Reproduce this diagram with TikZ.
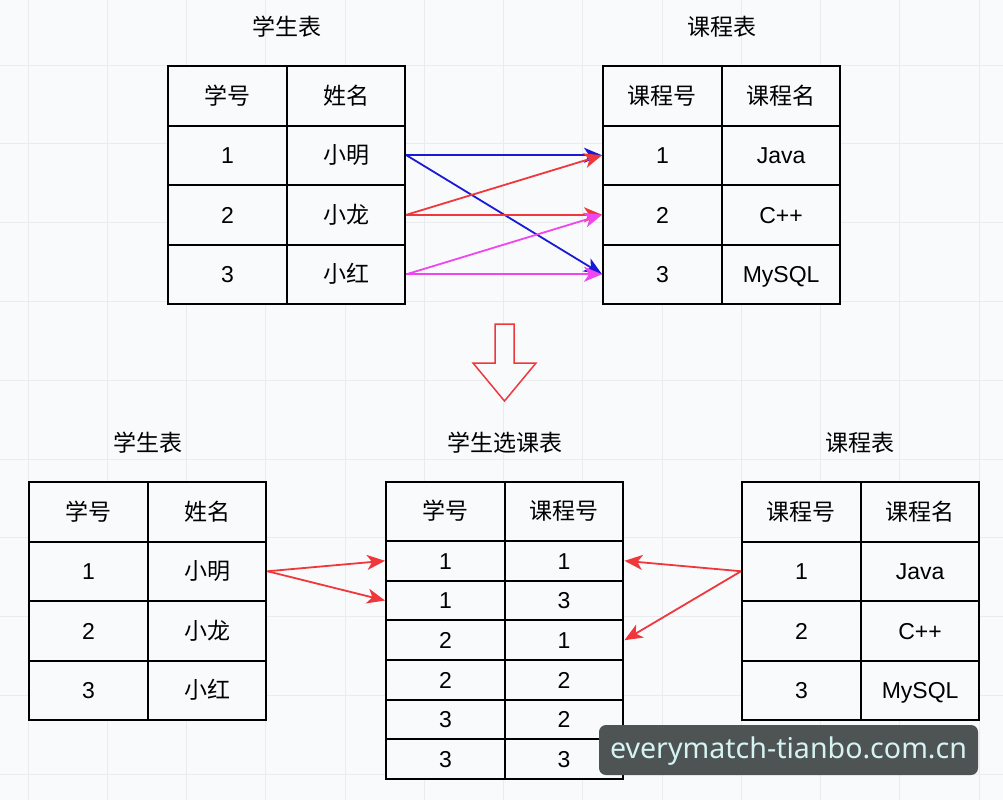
\documentclass[tikz,border=0pt]{standalone}
\usepackage{fontspec}
\setmainfont{Liberation Sans}
\newfontfamily\cjk{Noto Sans CJK SC}
\newfontfamily\wmfont{Noto Sans}
\usetikzlibrary{arrows.meta}
\definecolor{bgc}{RGB}{249,250,251}
\definecolor{gridc}{RGB}{234,235,237}
\definecolor{ablue}{RGB}{25,25,215}
\definecolor{ared}{RGB}{240,55,60}
\definecolor{amag}{RGB}{240,70,240}
\definecolor{wmbg}{RGB}{78,83,84}
\definecolor{wmtx}{RGB}{214,243,243}
\newcommand{\fsz}{\fontsize{23}{27}\selectfont}
\begin{document}
\begin{tikzpicture}[x=1pt,y=-1pt,
  gridline/.style={draw=gridc, line width=1pt},
  cell/.style={draw=black, line width=2pt, fill=bgc, minimum width=118.75pt, minimum height=59.5pt, inner sep=0pt, text height=16.5pt, text depth=0pt, font=\fsz},
  mcell/.style={cell, minimum height=39.67pt},
  mhead/.style={cell, minimum height=59pt},
  ttl/.style={font=\fsz\cjk, inner sep=0pt},
  arr/.style={line width=1.8pt, -{Stealth[length=18pt,width=15pt,inset=5pt]}},
  wmbox/.style={fill=wmbg, rounded corners=7pt, minimum width=379pt, minimum height=50pt, inner sep=0pt}
]
\useasboundingbox (0,0) rectangle (1003,800);
\fill[bgc] (0,0) rectangle (1003,800);
\foreach \i in {0,...,12} \draw[gridline] (28+79.25*\i,0) -- (28+79.25*\i,800);
\foreach \j in {0,...,9} \draw[gridline] (0,65+78.8*\j) -- (1003,65+78.8*\j);

% ---------- top: student table ----------
\node[ttl] (t1) at (287,27) {学生表};
\node[cell] (s0a) at (227.4,95.75) {\cjk 学号};
\node[cell] (s0b) at (346.1,95.75) {\cjk 姓名};
\node[cell] (s1a) at (227.4,155.25) {1};
\node[cell] (s1b) at (346.1,155.25) {\cjk 小明};
\node[cell] (s2a) at (227.4,214.75) {2};
\node[cell] (s2b) at (346.1,214.75) {\cjk 小龙};
\node[cell] (s3a) at (227.4,274.25) {3};
\node[cell] (s3b) at (346.1,274.25) {\cjk 小红};

% ---------- top: course table ----------
\node[ttl] (t2) at (722,27) {课程表};
\node[cell] (c0a) at (662.4,95.75) {\cjk 课程号};
\node[cell] (c0b) at (781.1,95.75) {\cjk 课程名};
\node[cell] (c1a) at (662.4,155.25) {1};
\node[cell] (c1b) at (781.1,155.25) {Java};
\node[cell] (c2a) at (662.4,214.75) {2};
\node[cell] (c2b) at (781.1,214.75) {C++};
\node[cell] (c3a) at (662.4,274.25) {3};
\node[cell] (c3b) at (781.1,274.25) {MySQL};

% ---------- top arrows ----------
\draw[arr, ablue] (s1b.east) -- (c1a.west);
\draw[arr, ablue] (s1b.east) -- (c3a.west);
\draw[arr, ared] (s2b.east) -- (c1a.west);
\draw[arr, ared] (s2b.east) -- (c2a.west);
\draw[arr, amag] (s3b.east) -- (c2a.west);
\draw[arr, amag] (s3b.east) -- (c3a.west);

% ---------- big down arrow ----------
\draw[ared, line width=1.5pt, fill=bgc, line join=miter]
  (495,324) -- (514,324) -- (514,363) -- (536,363) -- (504.5,401) -- (473,363) -- (495,363) -- cycle;

% ---------- bottom: student table ----------
\node[ttl] (t3) at (148,443) {学生表};
\node[cell] (u0a) at (88.4,511.75) {\cjk 学号};
\node[cell] (u0b) at (207.1,511.75) {\cjk 姓名};
\node[cell] (u1a) at (88.4,571.25) {1};
\node[cell] (u1b) at (207.1,571.25) {\cjk 小明};
\node[cell] (u2a) at (88.4,630.75) {2};
\node[cell] (u2b) at (207.1,630.75) {\cjk 小龙};
\node[cell] (u3a) at (88.4,690.25) {3};
\node[cell] (u3b) at (207.1,690.25) {\cjk 小红};

% ---------- bottom: selection table ----------
\node[ttl] (t4) at (505,443) {学生选课表};
\node[mhead] (m0a) at (445.4,511.5) {\cjk 学号};
\node[mhead] (m0b) at (564.1,511.5) {\cjk 课程号};
\node[mcell] (m1a) at (445.4,560.8) {1};
\node[mcell] (m1b) at (564.1,560.8) {1};
\node[mcell] (m2a) at (445.4,600.5) {1};
\node[mcell] (m2b) at (564.1,600.5) {3};
\node[mcell] (m3a) at (445.4,640.2) {2};
\node[mcell] (m3b) at (564.1,640.2) {1};
\node[mcell] (m4a) at (445.4,679.8) {2};
\node[mcell] (m4b) at (564.1,679.8) {2};
\node[mcell] (m5a) at (445.4,719.5) {3};
\node[mcell] (m5b) at (564.1,719.5) {2};
\node[mcell] (m6a) at (445.4,759.2) {3};
\node[mcell] (m6b) at (564.1,759.2) {3};

% ---------- bottom: course table ----------
\node[ttl] (t5) at (860,443) {课程表};
\node[cell] (k0a) at (801.4,511.75) {\cjk 课程号};
\node[cell] (k0b) at (920.1,511.75) {\cjk 课程名};
\node[cell] (k1a) at (801.4,571.25) {1};
\node[cell] (k1b) at (920.1,571.25) {Java};
\node[cell] (k2a) at (801.4,630.75) {2};
\node[cell] (k2b) at (920.1,630.75) {C++};
\node[cell] (k3a) at (801.4,690.25) {3};
\node[cell] (k3b) at (920.1,690.25) {MySQL};

% ---------- bottom arrows ----------
\draw[arr, ared] (u1b.east) -- (m1a.west);
\draw[arr, ared] (u1b.east) -- (m2a.west);
\draw[arr, ared] (k1a.west) -- (m1b.east);
\draw[arr, ared] (k1a.west) -- (m3b.east);

% ---------- watermark ----------
\node[wmbox] (wm) at (788.5,750) {};
\node[inner sep=0pt, text=wmtx] (wmt) at (788.5,751) {\resizebox{357pt}{!}{\wmfont everymatch-tianbo.com.cn}};
\end{tikzpicture}
\end{document}
